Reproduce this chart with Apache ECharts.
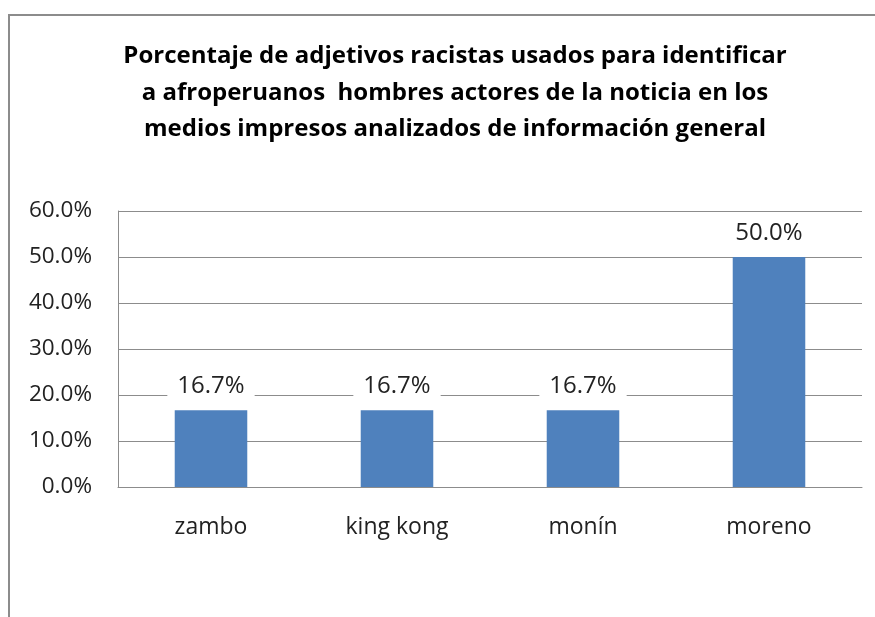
<!DOCTYPE html>
<html>
<head>
<meta charset="utf-8">
<script src="https://cdn.jsdelivr.net/npm/echarts@6/dist/echarts.min.js"></script>
<style>
  html, body { margin: 0; padding: 0; background: #fff; }
  #chart { width: 875px; height: 617px; }
</style>
</head>
<body>
<div id="chart"></div>
<script>
// ---- DATA ----
const titleLines = [
  'Porcentaje de adjetivos racistas usados para identificar',
  'a afroperuanos  hombres actores de la noticia en los',
  'medios impresos analizados de información general'
];
const categories = ['zambo', 'king kong', 'monín', 'moreno'];
const percentValues = [16.7, 16.7, 16.7, 50.0];
const yTicks = [0, 10, 20, 30, 40, 50, 60];

// ---- CHART ----
const chart = echarts.init(document.getElementById('chart'), null, { renderer: 'canvas' });
chart.setOption({
  backgroundColor: '#fff',
  animation: false,
  title: {
    text: titleLines.join('\n'),
    left: 450,
    textAlign: 'center',
    top: 33,
    textStyle: {
      fontFamily: 'Open Sans', fontWeight: 'bold', fontSize: 24,
      lineHeight: 36.5, color: '#000'
    }
  },
  graphic: [{
    type: 'rect',
    shape: { x: 9, y: 15, width: 900, height: 700 },
    style: { fill: 'none', stroke: '#8c8c8c', lineWidth: 2 },
    silent: true
  }],
  grid: { left: 118, right: 13, top: 211, bottom: 130 },
  xAxis: {
    type: 'category',
    data: categories,
    axisLine: { lineStyle: { color: '#8c8c8c', width: 1 } },
    axisTick: { show: false },
    axisLabel: { fontFamily: 'Open Sans', fontSize: 23, color: '#222', margin: 29 }
  },
  yAxis: {
    type: 'value',
    min: yTicks[0],
    max: yTicks[yTicks.length - 1],
    interval: 10,
    axisLine: { show: true, lineStyle: { color: '#8c8c8c', width: 1 } },
    axisTick: { show: false },
    splitLine: { lineStyle: { color: '#8c8c8c', width: 1 } },
    axisLabel: {
      fontFamily: 'Open Sans', fontSize: 22.5, color: '#222', margin: 26,
      formatter: v => v.toFixed(1) + '%'
    }
  },
  series: [{
    type: 'bar',
    data: percentValues,
    barWidth: '39%',
    itemStyle: { color: '#4f81bd' },
    label: {
      show: true,
      position: 'top',
      distance: 10,
      fontFamily: 'Open Sans', fontSize: 24, color: '#222',
      backgroundColor: '#fff',
      padding: [2, 10],
      formatter: p => p.value.toFixed(1) + '%'
    }
  }]
});
</script>
</body>
</html>
